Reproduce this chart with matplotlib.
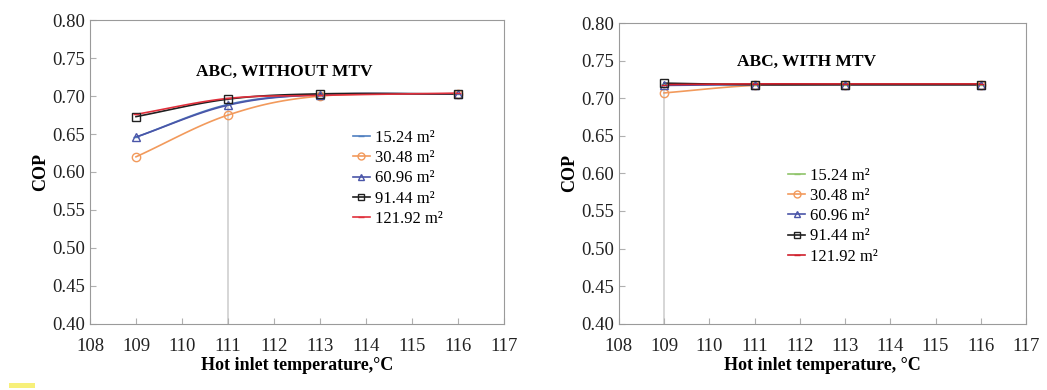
import numpy as np
import matplotlib
matplotlib.use("Agg")
import matplotlib.pyplot as plt
from matplotlib.patches import Rectangle

plt.rcParams['font.family'] = ['Liberation Serif', 'DejaVu Serif']

temps = [109, 111, 113, 116]
areas = ['15.24 m²', '30.48 m²', '60.96 m²', '91.44 m²', '121.92 m²']

cop_without = [
    [0.646, 0.689, 0.702, 0.703],
    [0.620, 0.675, 0.700, 0.703],
    [0.646, 0.688, 0.702, 0.703],
    [0.673, 0.696, 0.703, 0.703],
    [0.676, 0.697, 0.701, 0.704],
]
cop_with = [
    [0.719, 0.718, 0.718, 0.718],
    [0.707, 0.717, 0.718, 0.718],
    [0.717, 0.718, 0.718, 0.718],
    [0.720, 0.718, 0.718, 0.718],
    [0.718, 0.719, 0.719, 0.719],
]

markers = ['_', 'o', '^', 's', '_']
colors_without = ['#4F7FC0', '#F29A5C', '#4A55A8', '#202020', '#E0303C']
colors_with = ['#8FC46A', '#F29A5C', '#4A55A8', '#202020', '#D0202C']


def smooth(x, y, n=30):
    # Catmull-Rom style curve through the points, like a smoothed spreadsheet line
    x = np.asarray(x, float)
    y = np.asarray(y, float)
    px = np.concatenate([[2 * x[0] - x[1]], x, [2 * x[-1] - x[-2]]])
    py = np.concatenate([[2 * y[0] - y[1]], y, [2 * y[-1] - y[-2]]])
    xs, ys = [], []
    t = np.linspace(0, 1, n)
    for i in range(1, len(px) - 2):
        for p, out in ((px, xs), (py, ys)):
            p0, p1, p2, p3 = p[i - 1], p[i], p[i + 1], p[i + 2]
            out.append(0.5 * ((2 * p1) + (-p0 + p2) * t
                              + (2 * p0 - 5 * p1 + 4 * p2 - p3) * t ** 2
                              + (-p0 + 3 * p1 - 3 * p2 + p3) * t ** 3))
    return np.concatenate(xs), np.concatenate(ys)


def draw(ax, data, colors, title, title_xy, xlabel, legend_loc, drop_x, drop_top):
    ax.axvline(drop_x, ymin=0, ymax=(drop_top - 0.40) / 0.40, color='#cfcfcf', lw=1.2, zorder=1)
    for vals, name, mk, c in zip(data, areas, markers, colors):
        sx, sy = smooth(temps, vals)
        ax.plot(sx, sy, color=c, lw=1.2, zorder=2)
        ax.plot(temps, vals, linestyle='none', marker=mk, mfc='none', mec=c,
                ms=6 if mk != '_' else 5, mew=1.0, zorder=3)
        ax.plot([], [], color=c, lw=1.2, marker=mk, mfc='none', mec=c,
                ms=5 if mk != '_' else 4, label=name)
    ax.set_xlim(108, 117)
    ax.set_ylim(0.40, 0.80)
    ax.set_xticks(range(108, 118))
    ax.set_yticks(np.arange(0.40, 0.801, 0.05))
    ax.yaxis.set_major_formatter(plt.FormatStrFormatter('%.2f'))
    ax.tick_params(direction='in', length=4, color='#b0b0b0', labelsize=13.5,
                   labelcolor='#222222')
    ax.tick_params(axis='x', pad=10)
    for s in ax.spines.values():
        s.set_color('#9a9a9a')
    ax.set_xlabel(xlabel, fontsize=13, fontweight='bold', labelpad=2)
    ax.set_ylabel('COP', fontsize=13, fontweight='bold', labelpad=2)
    ax.text(*title_xy, title, transform=ax.transAxes, ha='center', va='center',
            fontsize=12.5, fontweight='bold')
    ax.legend(loc='upper left', bbox_to_anchor=legend_loc, frameon=False,
              fontsize=12, handlelength=1.0, handletextpad=0.3, labelspacing=0.25,
              borderaxespad=0)


fig = plt.figure(figsize=(10.47, 3.9), dpi=100)
ax1 = fig.add_axes([0.086, 0.170, 0.395, 0.778])
ax2 = fig.add_axes([0.591, 0.170, 0.389, 0.771])

draw(ax1, cop_without, colors_without, 'ABC, WITHOUT MTV', (0.47, 0.83),
     'Hot inlet temperature,°C', (0.62, 0.66), 111, 0.696)
draw(ax2, cop_with, colors_with, 'ABC, WITH MTV', (0.46, 0.87),
     'Hot inlet temperature, °C', (0.40, 0.54), 109, 0.720)

fig.patches.append(Rectangle((0.009, 0.005), 0.024, 0.012, transform=fig.transFigure,
                             facecolor='#f7f07a', edgecolor='none'))

fig.savefig('out.png', dpi=100)
